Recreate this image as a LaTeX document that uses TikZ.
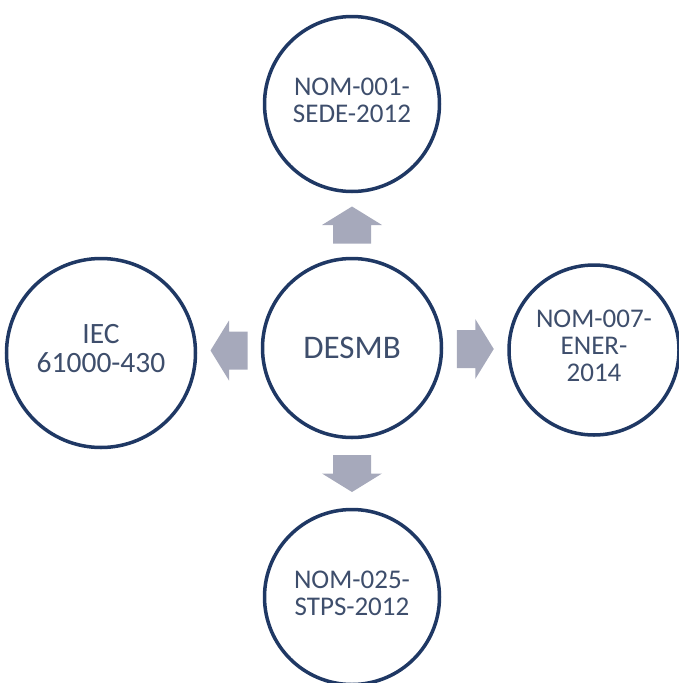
\documentclass[tikz,border=0pt]{standalone}
\usepackage{fontspec}
\setmainfont{Carlito}
\usetikzlibrary{calc}

\definecolor{ringblue}{RGB}{31,56,100}
\definecolor{labelblue}{RGB}{62,78,108}
\definecolor{arrowgray}{RGB}{166,169,187}

\tikzset{
  ring/.style={circle, draw=ringblue, line width=3.5pt, fill=white,
    text=labelblue, align=center, inner sep=0pt},
  normtext/.style={font=\fontsize{27}{27}\selectfont},
  blockarrow/.pic={
    \fill[arrowgray] (-18.5,-19) -- (0,-19) -- (0,-30) -- (18.5,0)
      -- (0,30) -- (0,19) -- (-18.5,19) -- cycle;
  }
}

\begin{document}
\begin{tikzpicture}[x=1pt, y=1pt]

  % Fix the page
  \useasboundingbox (0,0) rectangle (678,-683);

  % Center circle
  \node[ring, minimum size=179pt, font=\fontsize{33}{33}\selectfont]
    (desmb) at (352,-348) {DESMB};

  % Standards around it
  \node[ring, normtext, minimum size=175pt] (nom001) at (352,-104)
    {NOM-001-\\SEDE-2012\strut};
  \node[ring, minimum size=189pt, font=\fontsize{29.5}{29.5}\selectfont]
    (iec) at (101,-353) {IEC\\61000-430\strut};
  \node[ring, normtext, minimum size=170pt] (nom007) at (594,-350)
    {NOM-007-\\ENER-\\2014\strut};
  \node[ring, normtext, minimum size=175pt] (nom025) at (352,-597)
    {NOM-025-\\STPS-2012\strut};

  % Block arrows between the circles
  \foreach \dst/\ang/\back in {nom001/90/270, nom007/0/180, nom025/270/90, iec/180/0} {
    \pic[rotate=\ang] at ($(desmb.\ang)!0.5!(\dst.\back)$) {blockarrow};
  }

\end{tikzpicture}
\end{document}
